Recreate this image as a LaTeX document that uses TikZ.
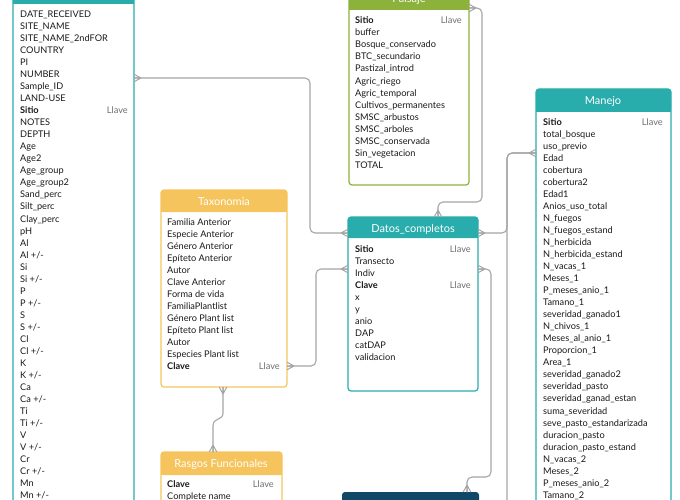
\documentclass[tikz,border=0pt]{standalone}
\usepackage{fontspec}
\setmainfont{Lato}
\definecolor{cteal}{RGB}{40,172,172}
\definecolor{cyel}{RGB}{245,196,92}
\definecolor{cgreen}{RGB}{140,178,60}
\definecolor{cnavy}{RGB}{16,72,104}
\definecolor{cgray}{RGB}{165,165,165}
\definecolor{ctext}{RGB}{25,25,25}
\definecolor{cllave}{RGB}{110,110,110}
\tikzset{
  conn/.style={draw=cgray, line width=1.1pt, rounded corners=5pt},
  fld/.style={anchor=base west, font=\fontsize{9.2}{10}\selectfont, text=ctext, inner sep=0pt},
  llave/.style={anchor=base east, font=\fontsize{9.2}{10}\selectfont, text=cllave, inner sep=0pt},
  hdr/.style={anchor=base, font=\fontsize{11}{12}\selectfont, text=white, inner sep=0pt},
  tabbox/.style={draw=#1, line width=1.2pt, rounded corners=3pt, fill=none},
  pics/crow/.style={code={\draw[cgray, line width=1pt] (7,0) -- (0,3.8) (7,0) -- (0,0) (7,0) -- (0,-3.8);}}
}
\newcommand{\mktable}[7]{% name, color, x1, x2, top, headerbottom, bottom
  \fill[#2, rounded corners=3pt] (#3,#5) rectangle (#4,#6);
  \fill[#2] (#3,#6-5) rectangle (#4,#6);
  \path[tabbox=#2] (#3,#5) rectangle (#4,#7);
  \coordinate (#1-nw) at (#3,#5);
  \coordinate (#1-se) at (#4,#7);
}
\begin{document}
\begin{tikzpicture}[x=1pt,y=-1pt]
\useasboundingbox (0,0) rectangle (680,500);
\begin{scope}
\clip (0,0) rectangle (680,500);
% ---------------- tables -----------------
\mktable{L}{cteal}{13}{134}{-20}{4}{520}
\mktable{P}{cgreen}{349}{469}{-20}{10}{185}
\mktable{T}{cyel}{161}{287}{190}{212}{387}
\mktable{D}{cteal}{348}{478}{217}{238}{391}
\mktable{M}{cteal}{536}{671}{89}{112}{520}
\mktable{R}{cyel}{161}{282}{452}{475}{520}
\fill[cnavy, rounded corners=3pt] (342,492) rectangle (479,520);
\coordinate (F-nw) at (342,492);

% titles
\node[hdr] (tP) at (409,2.5) {Paisaje};
\node[hdr] (tT) at (224,205) {Taxonomia};
\node[hdr] (tD) at (413,232) {Datos\_completos};
\node[hdr] (tM) at (603,105) {Manejo};
\node[hdr] (tR) at (221,467) {Rasgos Funcionales};

% left table rows
\foreach \t [count=\i from 0] in {DATE\_RECEIVED, SITE\_NAME, SITE\_NAME\_2ndFOR, COUNTRY, PI, NUMBER, Sample\_ID, LAND-USE, \textbf{Sitio}, NOTES, DEPTH, Age, Age2, Age\_group, Age\_group2, Sand\_perc, Silt\_perc, Clay\_perc, pH, Al, Al +/-, Si, Si +/-, P, P +/-, S, S +/-, Cl, Cl +/-, K, K +/-, Ca, Ca +/-, Ti, Ti +/-, V, V +/-, Cr, Cr +/-, Mn, Mn +/-}
  \node[fld] (L\i) at (20,17.5+12.03*\i) {\t};
\node[llave] (Lk) at (128,17.5+12.03*8) {Llave};

% Paisaje rows
\foreach \t [count=\i from 0] in {\textbf{Sitio}, buffer, Bosque\_conservado, BTC\_secundario, Pastizal\_introd, Agric\_riego, Agric\_temporal, Cultivos\_permanentes, SMSC\_arbustos, SMSC\_arboles, SMSC\_conservada, Sin\_vegetacion, TOTAL}
  \node[fld] (P\i) at (355,23.8+12.05*\i) {\t};
\node[llave] (Pk) at (462,23.8) {Llave};

% Taxonomia rows
\foreach \t [count=\i from 0] in {Familia Anterior, Especie Anterior, Género Anterior, Epíteto Anterior, Autor, Clave Anterior, Forma de vida, FamiliaPlantlist, Género Plant list, Epíteto Plant list, Autor, Especies Plant list, \textbf{Clave}}
  \node[fld] (T\i) at (167,225.5+12.03*\i) {\t};
\node[llave] (Tk) at (280,225.5+12.03*12) {Llave};

% Datos_completos rows
\foreach \t [count=\i from 0] in {\textbf{Sitio}, Transecto, Indiv, \textbf{Clave}, x, y, anio, DAP, catDAP, validacion}
  \node[fld] (D\i) at (355,252.5+12.03*\i) {\t};
\node[llave] (Dk1) at (471,252.5) {Llave};
\node[llave] (Dk2) at (471,252.5+12.03*3) {Llave};

% Manejo rows
\foreach \t [count=\i from 0] in {\textbf{Sitio}, total\_bosque, uso\_previo, Edad, cobertura, cobertura2, Edad1, Anios\_uso\_total, N\_fuegos, N\_fuegos\_estand, N\_herbicida, N\_herbicida\_estand, N\_vacas\_1, Meses\_1, P\_meses\_anio\_1, Tamano\_1, severidad\_ganado1, N\_chivos\_1, Meses\_al\_anio\_1, Proporcion\_1, Area\_1, severidad\_ganado2, severidad\_pasto, severidad\_ganad\_estan, suma\_severidad, seve\_pasto\_estandarizada, duracion\_pasto, duracion\_pasto\_estand, N\_vacas\_2, Meses\_2, P\_meses\_anio\_2, Tamano\_2}
  \node[fld] (M\i) at (543,125.3+12.03*\i) {\t};
\node[llave] (Mk) at (663,125.3) {Llave};

% Rasgos rows
\node[fld] (R0) at (167,487) {\textbf{Clave}};
\node[fld] (R1) at (167,499) {Complete name};
\node[llave] (Rk) at (274,487) {Llave};

% ---------------- ports -----------------
\coordinate (pL) at (134,78);
\coordinate (pDl1) at (348,233);
\coordinate (pP) at (469,8);
\coordinate (pDt) at (438,217);
\coordinate (pT) at (287,366);
\coordinate (pDl2) at (348,269);
\coordinate (pTb) at (223,387);
\coordinate (pRt) at (213,452);
\coordinate (pDr1) at (478,233);
\coordinate (pM) at (536,153);
\coordinate (pDr2) at (478,269);
\coordinate (pF) at (467,492);
\coordinate (offb) at (507,510);

% ---------------- connectors -----------------
\draw[conn] (pL) -- (310,78) -- (310,233) -- (pDl1);
\draw[conn] (pP) -- (482,8) -- (482,202) -- (438,202) -- (pDt);
\draw[conn] (pT) -- (316,366) -- (316,269) -- (pDl2);
\draw[draw=cgray, line width=1.1pt] (pTb) -- (223,413) .. controls (223,421) and (213,417) .. (213,426) -- (pRt);
\draw[conn] (pDr1) -- (507,233) -- (507,153) -- (pM);
\draw[conn] (pM) -- (507,153) -- (offb);
\draw[conn] (pDr2) -- (491,269) -- (491,477) -- (467,477) -- (pF);

% crow's feet
\pic at (pL) {crow};
\pic[rotate=180] at (pDl1) {crow};
\pic at (pP) {crow};
\pic[rotate=90] at (pDt) {crow};
\pic at (pT) {crow};
\pic[rotate=180] at (pDl2) {crow};
\pic[rotate=-90] at (pTb) {crow};
\pic[rotate=90] at (pRt) {crow};
\pic at (pDr1) {crow};
\pic[rotate=180] at (pM) {crow};
\pic at (pDr2) {crow};
\pic[rotate=90] at (pF) {crow};
\end{scope}
\end{tikzpicture}
\end{document}
